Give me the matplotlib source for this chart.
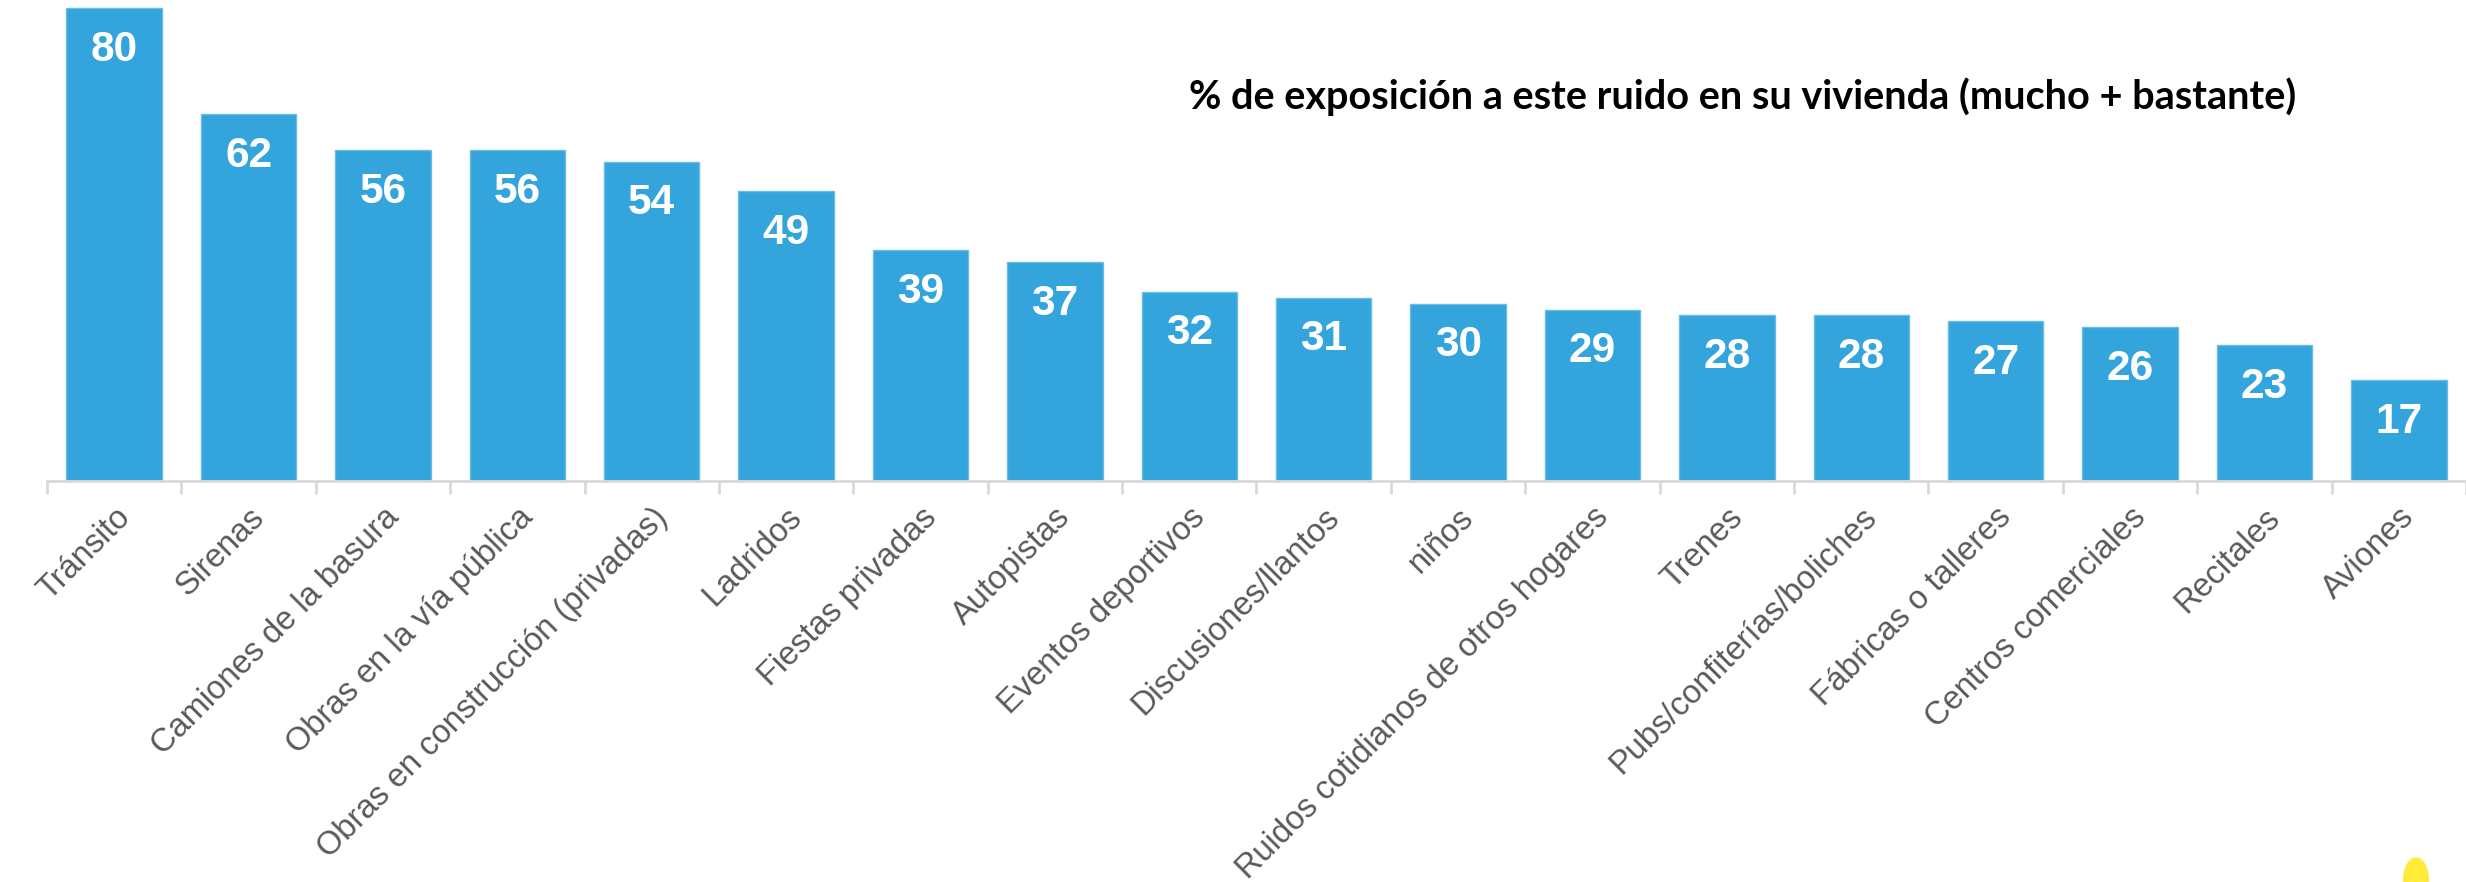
import matplotlib.pyplot as plt
from matplotlib.patches import Ellipse

# data
categories = ["Tránsito", "Sirenas", "Camiones de la basura", "Obras en la vía pública",
              "Obras en construcción (privadas)", "Ladridos", "Fiestas privadas", "Autopistas",
              "Eventos deportivos", "Discusiones/llantos", "niños",
              "Ruidos cotidianos de otros hogares", "Trenes", "Pubs/confiterías/boliches",
              "Fábricas o talleres", "Centros comerciales", "Recitales", "Aviones"]
values = [80, 62, 56, 56, 54, 49, 39, 37, 32, 31, 30, 29, 28, 28, 27, 26, 23, 17]
title = "% de exposición a este ruido en su vivienda (mucho + bastante)"

plt.rcParams['font.family'] = ['Liberation Sans', 'DejaVu Sans']

fig = plt.figure(figsize=(24.66, 8.82), dpi=100)
ax = fig.add_axes([47 / 2466, 1 - 481 / 882, 1 - 47 / 2466, 481 / 882])

x = range(len(categories))
bars = ax.bar(x, values, width=0.71, color='#34a4dc', edgecolor='#6cbde6', linewidth=1)

for b, v in zip(bars, values):
    ax.annotate(str(v), (b.get_x() + b.get_width() / 2, v), xytext=(0, -30),
                textcoords='offset points', ha='center', va='center',
                color='white', fontsize=30.5, fontweight='bold')

ax.set_xlim(-0.5, len(categories) - 0.5)
ax.set_ylim(0, 81.35)
ax.set_yticks([])
for s in ['top', 'right', 'left']:
    ax.spines[s].set_visible(False)
ax.spines['bottom'].set_color('#d9d9d9')
ax.spines['bottom'].set_linewidth(2)

ax.set_xticks(list(x))
ax.set_xticklabels(categories, rotation=45, ha='right', rotation_mode='anchor',
                   fontsize=23.5, color='#595959')
ax.tick_params(axis='x', which='major', length=0, pad=15)
ax.set_xticks([i - 0.5 for i in range(len(categories) + 1)], minor=True)
ax.tick_params(axis='x', which='minor', length=9, width=2, color='#d9d9d9')

fig.text(1743 / 2466, 1 - 97 / 882, title, ha='center', va='center',
         fontsize=28.5, fontweight='bold', family=['Lato', 'DejaVu Sans'])

# small yellow mark cut off at the bottom right corner
fig.patches.append(Ellipse((2416 / 2466, 2 / 882), 0.01, 0.05,
                           transform=fig.transFigure, color='#ffeb3b'))

fig.savefig('out.png', dpi=100)
